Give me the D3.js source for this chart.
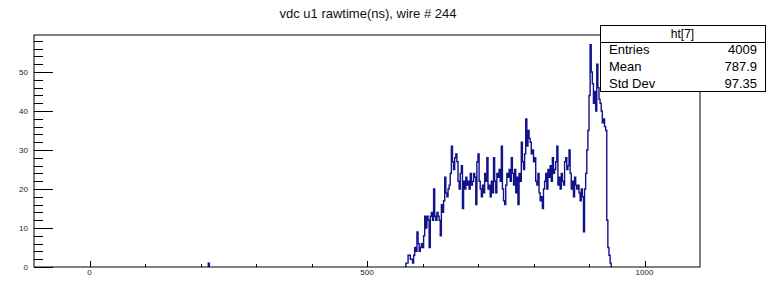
<!DOCTYPE html>
<html>
<head>
<meta charset="utf-8">
<script src="https://cdn.jsdelivr.net/npm/d3@7"></script>
<style>
  body { margin: 0; background: #fff; }
  svg { display: block; font-family: "Liberation Sans", Arial, sans-serif; }
</style>
</head>
<body>
<div id="chart"></div>
<script>
// histogram ht[7]: bins of 2 ns starting at 570 ns
const firstBin = 570;
const binWidth = 2;
const counts = [
  1, 1, 3, 3, 2,   2, 1, 3, 5, 4,   9, 6, 4, 5, 6,   5, 8, 13, 10, 13,
  12, 5, 13, 14, 12,   20, 13, 12, 14, 13,   12, 8, 16, 14, 17,   23, 19, 18, 20, 21,
  24, 31, 27, 25, 28,   29, 27, 22, 20, 24,   26, 15, 22, 20, 23,   21, 22, 20, 24, 21,
  22, 24, 23, 16, 27,   29, 22, 20, 18, 21,   19, 24, 22, 28, 20,   21, 18, 22, 19, 28,
  22, 19, 24, 23, 25,   22, 31, 20, 17, 16,   21, 24, 23, 25, 22,   28, 24, 21, 25, 19,
  23, 16, 24, 22, 32,   27, 25, 29, 38, 31,   35, 33, 32, 29, 30,   27, 28, 22, 21, 24,
  19, 17, 18, 15, 20,   22, 24, 20, 25, 23,   26, 22, 28, 24, 25,   27, 31, 21, 23, 20,
  24, 22, 21, 27, 28,   25, 26, 30, 24, 20,   22, 18, 23, 21, 20,   21, 19, 17, 20, 18,
  9, 20, 24, 30, 35,   44, 57, 50, 47, 42,   45, 40, 52, 46, 43,   42, 40, 37, 38, 36,
  35, 12, 5, 3, 1
];
// lone entry far from the main peak
const strayBins = [214];
const strayCounts = [1];

const title = 'vdc u1 rawtime(ns), wire # 244';
const statLabels = ['Entries', 'Mean', 'Std Dev'];
const statValues = ['4009', '787.9', '97.35'];
const xTickLabels = [0, 500, 1000];
const yTickLabels = [0, 10, 20, 30, 40, 50];

const width = 768, height = 281;
const frame = { left: 34, right: 700, top: 35, bottom: 267 };

const svg = d3.select('#chart').append('svg')
  .attr('width', width)
  .attr('height', height);

svg.append('rect').attr('width', width).attr('height', height).attr('fill', '#fff');

const x = d3.scaleLinear().domain([-100, 1100]).range([frame.left, frame.right]);
const y = d3.scaleLinear().domain([0, 59.5]).range([frame.bottom, frame.top]);

// histogram outline
const pts = [[firstBin, 0]];
counts.forEach((c, i) => pts.push([firstBin + i * binWidth, c]));
pts.push([firstBin + counts.length * binWidth, 0]);

const line = d3.line()
  .x(d => x(d[0]))
  .y(d => y(d[1]))
  .curve(d3.curveStepAfter);

svg.append('path')
  .attr('d', line(pts))
  .attr('fill', 'none')
  .attr('stroke', '#12128a')
  .attr('stroke-width', 1.4);

strayBins.forEach((b, i) => {
  const p = [[b, 0], [b, strayCounts[i]], [b + binWidth, 0]];
  svg.append('path')
    .attr('d', line(p))
    .attr('fill', 'none')
    .attr('stroke', '#12128a')
    .attr('stroke-width', 1.4);
});

// frame
svg.append('rect')
  .attr('x', frame.left).attr('y', frame.top)
  .attr('width', frame.right - frame.left)
  .attr('height', frame.bottom - frame.top)
  .attr('fill', 'none')
  .attr('stroke', '#000')
  .attr('stroke-width', 1);

// y axis ticks
const yMinor = d3.range(0, 59, 2);
svg.append('g').selectAll('line')
  .data(yMinor)
  .join('line')
  .attr('x1', frame.left)
  .attr('x2', d => frame.left + (d % 10 === 0 ? 19 : 9))
  .attr('y1', d => Math.round(y(d)) + 0.5)
  .attr('y2', d => Math.round(y(d)) + 0.5)
  .attr('stroke', '#000');

svg.append('g').selectAll('text')
  .data(yTickLabels)
  .join('text')
  .attr('x', 28)
  .attr('y', d => y(d) + 3)
  .attr('text-anchor', 'end')
  .attr('font-size', 8)
  .attr('fill', '#222')
  .text(d => d);

// x axis ticks
const xMinor = d3.range(0, 1100, 100);
svg.append('g').selectAll('line')
  .data(xMinor)
  .join('line')
  .attr('x1', d => Math.round(x(d)) + 0.5)
  .attr('x2', d => Math.round(x(d)) + 0.5)
  .attr('y1', frame.bottom)
  .attr('y2', d => frame.bottom - (d % 500 === 0 ? 6 : 3))
  .attr('stroke', '#000');

svg.append('g').selectAll('text')
  .data(xTickLabels)
  .join('text')
  .attr('x', d => x(d))
  .attr('y', 275)
  .attr('text-anchor', 'middle')
  .attr('font-size', 8)
  .attr('fill', '#222')
  .text(d => d);

// title
svg.append('text')
  .attr('x', 368)
  .attr('y', 18)
  .attr('text-anchor', 'middle')
  .attr('font-size', 13)
  .attr('fill', '#111')
  .text(title);

// stats box
const box = { x: 600, y: 25, w: 165, h: 66, head: 17 };
const stats = svg.append('g');
stats.append('rect')
  .attr('x', box.x + 0.5).attr('y', box.y + 0.5)
  .attr('width', box.w).attr('height', box.h)
  .attr('fill', '#fff')
  .attr('stroke', '#000');
stats.append('line')
  .attr('x1', box.x).attr('x2', box.x + box.w)
  .attr('y1', box.y + box.head + 0.5).attr('y2', box.y + box.head + 0.5)
  .attr('stroke', '#000');
stats.append('text')
  .attr('x', box.x + box.w / 2)
  .attr('y', box.y + 13)
  .attr('text-anchor', 'middle')
  .attr('font-size', 12)
  .text('ht[7]');

const rowY = [54, 71, 88];
stats.selectAll('.lab')
  .data(statLabels)
  .join('text')
  .attr('class', 'lab')
  .attr('x', 609)
  .attr('y', (d, i) => rowY[i])
  .attr('font-size', 13)
  .text(d => d);
stats.selectAll('.val')
  .data(statValues)
  .join('text')
  .attr('class', 'val')
  .attr('x', 757)
  .attr('y', (d, i) => rowY[i])
  .attr('text-anchor', 'end')
  .attr('font-size', 13)
  .text(d => d);
</script>
</body>
</html>
